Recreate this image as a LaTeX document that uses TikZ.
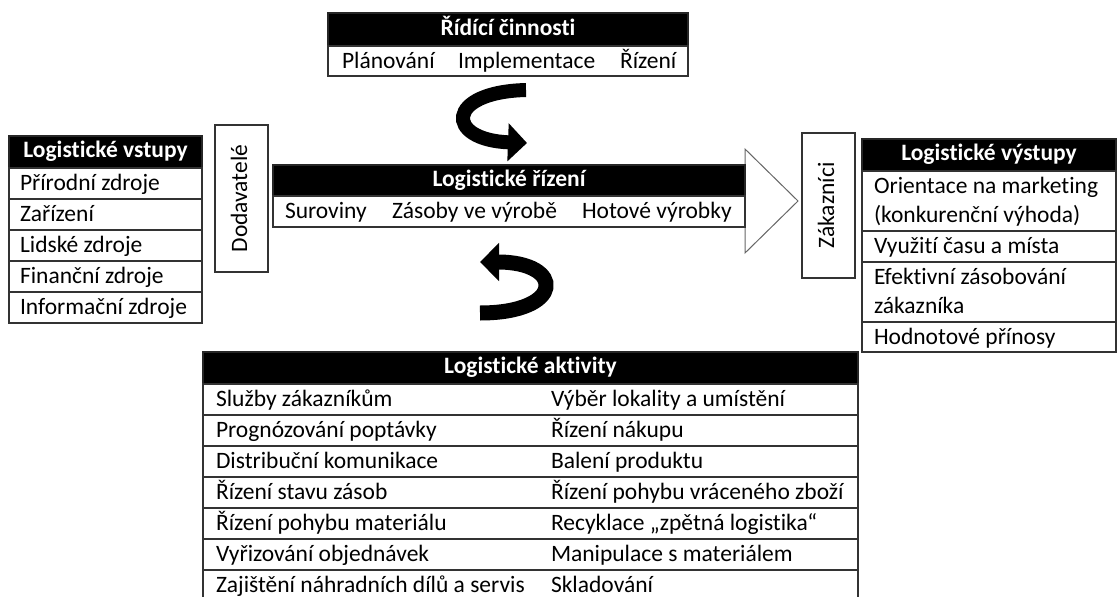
\documentclass[tikz,border=0pt]{standalone}
\usepackage{fontspec}
\setmainfont[Ligatures={NoCommon}]{Carlito}
\usetikzlibrary{arrows.meta,calc}
\begin{document}
\begin{tikzpicture}[x=1pt,y=-1pt,
  every node/.style={inner sep=0pt, outer sep=0pt},
  txtfont/.style={font=\fontsize{23.5}{30}\selectfont},
  hdr/.style={fill=black, draw=black!85, line width=1.2pt, text=white,
    font=\fontsize{23.5}{30}\selectfont\bfseries, text height=16pt, text depth=5pt, anchor=north west},
  cellbox/.style={draw=black!80, fill=white, line width=1.2pt, anchor=north west},
  lbl/.style={txtfont, anchor=base west, text=black},
  vbox/.style={draw=black!80, fill=white, line width=1.2pt, rotate=90, txtfont,
    text height=16pt, text depth=5pt},
  bigarrow/.style={line width=14pt, -{Triangle[width=37pt,length=19pt]}},
  headtri/.style={draw=black!60, fill=white, line width=1pt}
]
\useasboundingbox (0,0) rectangle (1117,597);

% ---------- control activities (top)
\node[hdr, minimum width=360, minimum height=33] (ctrlH) at (328,13) {Řídící činnosti};
\node[cellbox, minimum width=360, minimum height=30] (ctrlR) at (328,46) {};
\node[lbl] (c1) at ($(ctrlR.west)+(14,7)$) {Plánování};
\node[lbl] (c2) at ($(ctrlR.west)+(130,7)$) {Implementace};
\node[lbl] (c3) at ($(ctrlR.west)+(292,7)$) {Řízení};

% ---------- curved arrows
\coordinate (t0) at (526,90);
\coordinate (t1) at (527,143);
\draw[bigarrow] (t0) .. controls (445,92) and (445,140) .. (t1);
\coordinate (b0) at (480,313);
\coordinate (b1) at (480,262);
\draw[bigarrow, line width=15pt] (b0) .. controls (565,313) and (565,262) .. (b1);

% ---------- inputs (left)
\node[hdr, minimum width=193, minimum height=32] (inH) at (9,136) {Logistické vstupy};
\foreach \t [count=\i from 0] in {Přírodní zdroje, Zařízení, Lidské zdroje, Finanční zdroje, Informační zdroje}{
  \node[cellbox, minimum width=193, minimum height=31] (in\i) at (9,168+31*\i) {};
  \node[lbl] at ($(in\i.west)+(11,7)$) {\t};
}

% ---------- suppliers
\node[vbox, minimum width=147, minimum height=53] (supp) at (241.5,198.5) {Dodavatelé};

% ---------- big arrow head + logistics management
\draw[headtri] (745,149) -- (798,201) -- (745,253) -- cycle;
\node[hdr, minimum width=472, minimum height=31] (mgmtH) at (273,165) {Logistické řízení};
\node[cellbox, minimum width=472, minimum height=31] (mgmtR) at (273,196) {};
\node[lbl] (m1) at ($(mgmtR.west)+(12,7)$) {Suroviny};
\node[lbl] (m2) at ($(mgmtR.west)+(119,7)$) {Zásoby ve výrobě};
\node[lbl] (m3) at ($(mgmtR.west)+(309,7)$) {Hotové výrobky};

% ---------- customers
\node[vbox, minimum width=145, minimum height=53] (cust) at (828.5,205.5) {Zákazníci};

% ---------- outputs (right)
\node[hdr, minimum width=254, minimum height=32] (outH) at (862,139) {Logistické výstupy};
\node[cellbox, minimum width=254, minimum height=60] (out0) at (862,171) {};
\node[lbl] at ($(out0.north west)+(12,22)$) {Orientace na marketing};
\node[lbl] at ($(out0.north west)+(12,51)$) {(konkurenční výhoda)};
\node[cellbox, minimum width=254, minimum height=31] (out1) at (862,231) {};
\node[lbl] at ($(out1.west)+(12,7)$) {Využití času a místa};
\node[cellbox, minimum width=254, minimum height=60] (out2) at (862,262) {};
\node[lbl] at ($(out2.north west)+(12,22)$) {Efektivní zásobování};
\node[lbl] at ($(out2.north west)+(12,51)$) {zákazníka};
\node[cellbox, minimum width=254, minimum height=30] (out3) at (862,322) {};
\node[lbl] at ($(out3.west)+(12,7)$) {Hodnotové přínosy};

% ---------- activities (bottom)
\node[hdr, minimum width=655, minimum height=32] (actH) at (203,352) {Logistické aktivity};
\foreach \a/\b [count=\i from 0] in {
  Služby zákazníkům/Výběr lokality a umístění,
  Prognózování poptávky/Řízení nákupu,
  Distribuční komunikace/Balení produktu,
  Řízení stavu zásob/Řízení pohybu vráceného zboží,
  Řízení pohybu materiálu/Recyklace „zpětná logistika“,
  Vyřizování objednávek/Manipulace s materiálem,
  Zajištění náhradních dílů a servis/Skladování}{
  \node[cellbox, minimum width=655, minimum height=31] (act\i) at (203,384+31*\i) {};
  \node[lbl] at ($(act\i.west)+(13,7)$) {\a};
  \node[lbl] at ($(act\i.west)+(348,7)$) {\b};
}
\end{tikzpicture}
\end{document}
